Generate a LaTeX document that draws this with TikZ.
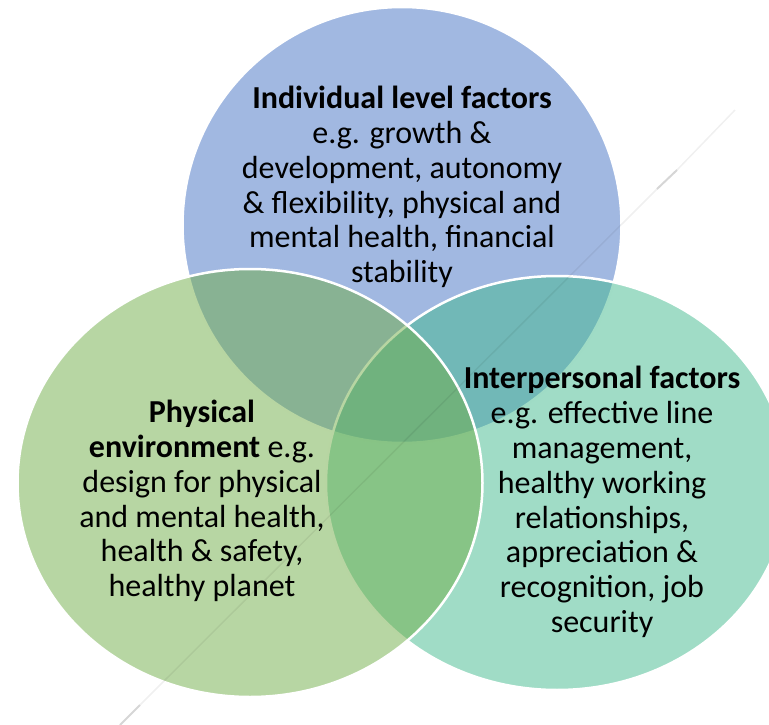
\documentclass[tikz,border=0pt]{standalone}
\usepackage{fontspec}
\setmainfont{Carlito}
\usetikzlibrary{shapes.geometric}
\definecolor{setblue}{HTML}{4472C4}
\definecolor{setgreen}{HTML}{70AD47}
\definecolor{setteal}{RGB}{65,185,141}

\begin{document}
\begin{tikzpicture}[x=1pt,y=-1pt]
        \tikzstyle{vennset}=[
            ellipse,
            draw=white,
            line width=2.5pt,
            fill opacity=0.5,
            inner sep=0pt
        ]
        \tikzstyle{venntext}=[
            align=center,
            inner sep=0pt,
            text=black,
            font=\fontsize{32}{34.8}\selectfont
        ]
        \tikzstyle{guideline}=[draw=black, draw opacity=0.06, line width=1.5pt]
        \tikzstyle{guidemark}=[draw=black, draw opacity=0.16, line width=2pt]

        \useasboundingbox (0,0) rectangle (769,725);

        \node[vennset, fill=setblue, minimum width=439pt, minimum height=436pt] (ind) at (402,225){};
        \node[vennset, fill=setteal, minimum width=462pt, minimum height=414pt] (inter) at (557,483){};
        \node[vennset, fill=setgreen, minimum width=465pt, minimum height=428pt] (phys) at (250,483){};

        \node[venntext] (indtxt) at (402,187){\textbf{Individual level factors}\\e.g. growth \&\\development, autonomy\\\& flexibility, physical and\\mental health, financial\\stability};
        \node[venntext] (phystxt) at (202,501){\textbf{Physical}\\\textbf{environment} e.g.\\design for physical\\and mental health,\\health \& safety,\\healthy planet};
        \node[venntext] (intertxt) at (602,502){\textbf{Interpersonal factors}\\e.g. effective line\\management,\\healthy working\\relationships,\\appreciation \&\\recognition, job\\security};

        \coordinate (g1) at (120,725);
        \coordinate (g2) at (140,705);
        \coordinate (g3) at (657,189);
        \coordinate (g4) at (677,170);
        \coordinate (g5) at (735,110);
        \draw[guideline] (g2) -- (g3);
        \draw[guideline] (g4) -- (g5);
        \draw[guidemark] (g1) -- (g2);
        \draw[guidemark] (g3) -- (g4);
\end{tikzpicture}
\end{document}
